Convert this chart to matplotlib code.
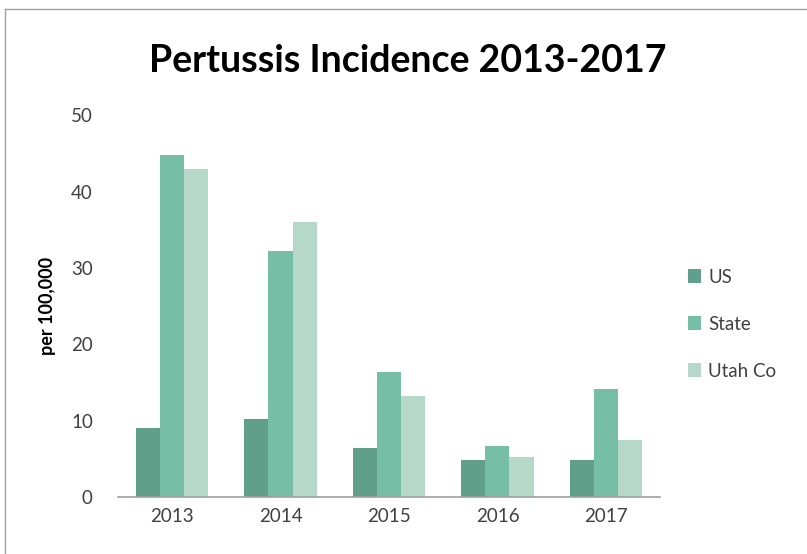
import matplotlib.pyplot as plt
import numpy as np
from matplotlib.lines import Line2D

# Data
years = ['2013', '2014', '2015', '2016', '2017']
us = [9.0, 10.2, 6.4, 4.8, 4.8]
state = [44.8, 32.2, 16.4, 6.7, 14.2]
utah_co = [43.0, 36.0, 13.2, 5.2, 7.4]

series = [('US', us, '#609f89'), ('State', state, '#77bea6'), ('Utah Co', utah_co, '#b5d8cb')]

plt.rcParams['font.family'] = ['Lato', 'DejaVu Sans']

fig = plt.figure(figsize=(8.07, 5.54), dpi=100)
ax = fig.add_axes([0.146, 0.103, 0.672, 0.689])

x = np.arange(len(years))
width = 0.222
for i, (name, vals, color) in enumerate(series):
    ax.bar(x + (i - 1) * width, vals, width, color=color, label=name)

ax.set_xlim(-0.5, 4.5)
ax.set_ylim(0, 50)
ax.set_yticks([0, 10, 20, 30, 40, 50])
ax.set_xticks(x)
ax.set_xticklabels(years)
ax.tick_params(axis='both', length=0, labelsize=13.5, colors='#404040', pad=8)
ax.tick_params(axis='y', pad=18)

for s in ['top', 'right', 'left']:
    ax.spines[s].set_visible(False)
ax.spines['bottom'].set_color('#a0a0a0')
ax.spines['bottom'].set_linewidth(1.2)

ax.set_ylabel('per 100,000', fontsize=13, fontweight='bold', labelpad=11)

fig.text(0.505, 0.89, 'Pertussis Incidence 2013-2017', ha='center', va='center',
         fontsize=27, fontweight='bold')

ax.legend(loc='center left', bbox_to_anchor=(1.02, 0.453), frameon=False,
          fontsize=13.5, handlelength=0.7, handleheight=0.7, handletextpad=0.4,
          labelspacing=1.6, labelcolor='#404040')

# chart border (top and left visible in reference)
fig.add_artist(Line2D([5 / 807, 5 / 807], [0, 1 - 9 / 554], color='#a0a0a0', lw=1))
fig.add_artist(Line2D([5 / 807, 1], [1 - 9 / 554, 1 - 9 / 554], color='#a0a0a0', lw=1))

fig.savefig('out.png', dpi=100)
